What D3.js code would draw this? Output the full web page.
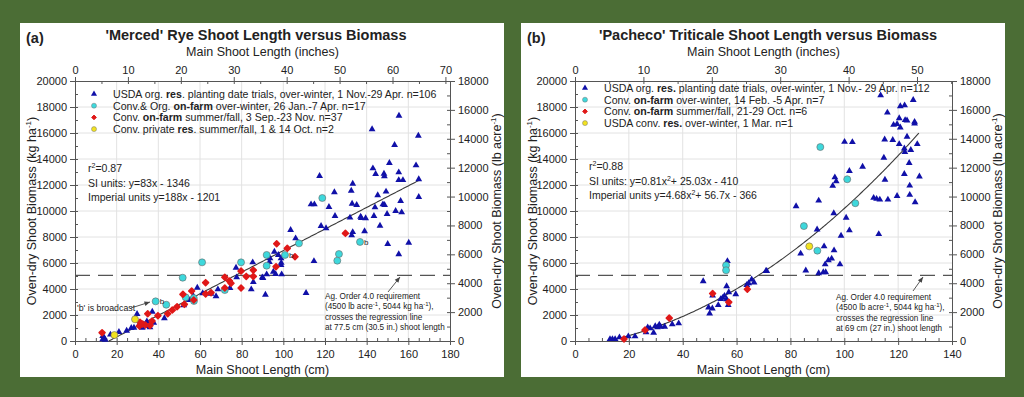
<!DOCTYPE html>
<html>
<head>
<meta charset="utf-8">
<script src="https://cdn.jsdelivr.net/npm/d3@7"></script>
<style>
  body { margin: 0; background: #4b6d35; }
  svg text { font-family: Arial, "Liberation Sans", sans-serif; fill: #222; }
</style>
</head>
<body>
<div id="chart"></div>
<script>
// ---- data ----
// panel (a) 'Merced' rye, [shoot length cm, biomass kg/ha]
const A_USDA = [[13.3,380],[13.3,130],[14,250],[14.5,100],[17,490],[21.1,690],[24.8,790],[27,1000],[28.3,1020],
  [29.8,2080],[30.9,1310],[31.5,1150],[32.3,1020],[33.8,1310],[34.5,1500],[35.2,1150],[36,1050],[37.1,2250],
  [37.8,1410],[42.9,1750],[52.2,2750],[54.9,3150],[56.8,3460],[58.7,4100],[61.3,3670],[65.3,3640],[67.7,3440],
  [68.6,3970],[74.4,4080],[77.6,4900],[77.3,5640],[84.6,3970],[85.6,4540],[85.3,6050],[89.9,4900],[91.4,3560],
  [92,5130],[93.3,6080],[93.6,6360],[95.2,5330],[95.7,6870],[97.6,6620],[98.9,6360],[99,6020],[99.2,5130],
  [103.5,8540],[105.9,7900],[110.9,3690],[114.7,6150],[117.4,12690],[124.5,11440],[132.6,11560],[113.3,10510],
  [114.9,10510],[121.9,10310],[133,10560],[135.2,10460],[145.3,11210],[149.3,11490],[147.8,10510],[148.6,10460],
  [144,10280],[156.3,10770],[165,11080],[153.9,10000],[156.8,9900],[149.8,9770],[143.5,9620],[132,9490],
  [137.1,9560],[137.4,9460],[139.5,9440],[124.8,9620],[146.4,8870],[139,8440],[133.3,8380],[132.8,8130],
  [118.1,8850],[120.5,8670],[150.1,7460],[160.2,7560],[155.4,6670],[142.6,16285],[155.5,17330],[164.8,15790],
  [153.4,15080],[143,13280],[144.3,12850],[148.3,12870],[148.5,12670],[150.9,13690],[155.4,12970],[155.4,12380],
  [157.4,12380],[163.7,13510],[165,12440],[133.3,12100],[90.2,4850],[96.3,5150],[98.9,5850]];
const A_FARM_WINTER = [[38.7,3050],[43.8,2790],[51.7,4870],[53.1,3360],[57.1,3080],[61,6050],[71.9,3920],
  [79.7,6050],[92,6620],[92,5790],[100.8,6620],[107.5,7510],[118.7,11000],[125.9,6180],[126.7,6690],[136.8,7620],[57,3300]];
const A_FARM_SUMMER = [[13,640],[30.9,1150],[31.2,1440],[32.5,1300],[33.8,1230],[34.9,2100],[36,1200],[37,1540],
  [39.8,1950],[44.5,2100],[46.7,2380],[49,2640],[51.8,3590],[52.5,2820],[56,3850],[57,3150],[62.7,4490],
  [62.7,3620],[65.3,3720],[71.9,4900],[71.9,4080],[74.1,4620],[74.9,4440],[79.7,4080],[79.7,5380],[82.2,4970],
  [85.6,5450],[85.6,4970],[96.8,7480],[101.9,7130],[105.6,6480],[96.5,5720],[129.8,8280]];
const A_PRIVATE = [[28.8,1670],[18.9,460]];
const A_BROADCAST = [[38.7,3050],[100.8,6620],[136.8,7620]];
const A_FIT = [0, 83, -1346];
const A_FIT_RANGE = [16.2, 165];

// panel (b) 'Pacheco' triticale
const B_USDA = [[13,150],[13.9,150],[14.9,150],[16.5,280],[19.8,360],[22.3,360],[26.4,670],[27,1050],[27.9,970],
  [29.2,640],[29.8,1150],[30.6,1050],[31.3,1250],[31.8,1100],[33.3,1100],[36.1,1280],[38.5,1360],[47.6,4600],
  [49.6,2580],[50,2120],[51,2500],[51.1,3500],[53.2,2760],[54.1,3220],[54.8,3320],[55.5,3470],[56.3,4210],
  [56.6,6150],[56.9,2760],[57.1,3750],[56.3,3200],[59.7,3600],[63.8,4310],[64.5,4440],[65.6,4730],[66.5,4500],
  [70.9,5390],[71.2,5390],[113.5,18900],[125.6,18540],[120.8,18060],[122.4,18130],[116,17570],[120.4,17140],
  [122.6,16990],[123.3,16960],[126.1,16860],[126.1,16730],[118.3,16630],[119.6,16680],[120.8,16420],[123.3,15710],
  [115,15500],[118,15460],[120.4,15150],[122.3,14810],[124.7,14690],[127.1,15150],[122.5,14530],[124.1,13690],
  [114.7,14100],[122.3,12850],[127.9,12660],[115.1,12410],[124.3,11950],[119.6,11160],[124.3,11240],[126.3,10670],
  [116.2,10880],[110.9,11010],[112,10930],[113.2,10880],[100.1,15320],[103,15300],[106.8,13410],[101.9,13080],
  [96.5,12590],[97,12280],[95.7,11930],[90.5,10800],[82.1,10370],[96.1,9830],[100.7,9480],[101.9,8510],
  [89.9,8580],[98.8,8100],[112.8,8220],[92.5,7280],[83.8,6720],[96.2,6970],[94.1,6210],[95.3,6340],[92.9,5900],
  [98.4,5900],[85.7,5420],[90.5,5210],[92.2,5290],[93.1,5290]];
const B_FARM_WINTER = [[91.1,14920],[101.1,12440],[104.1,10600],[85,8840],[90,6950],[56.1,5820],[56.1,5440]];
const B_FARM_SUMMER = [[18.2,150],[26,840],[35,1760],[51.1,3650],[57.1,2990],[64,3980]];
const B_CONV = [[87,7280]];
const B_FIT = [0.81, 25.03, -410];
const B_FIT_RANGE = [13, 127.7];

const AG_ORDER_KG = 5044;
const KG_TICKS = d3.range(0, 20001, 2000);
const LB_TICKS = d3.range(0, 18001, 2000);

// ---- layout ----
const svg = d3.select("#chart").append("svg").attr("width", 1024).attr("height", 397);

const COL_BLUE = "#1010a8", COL_CYAN = "#3ed8dc", COL_RED = "#e01818", COL_YEL = "#f2e21e";
const AX = "#555";
const fmt = d3.format("d");

function drawPanel(P) {
  const g = svg.append("g");
  g.append("rect").attr("x", P.box[0]).attr("y", P.box[1]).attr("width", P.box[2]).attr("height", P.box[3]).attr("fill", "#fff");

  const x = d3.scaleLinear().domain([0, P.xmax]).range([P.x0, P.x1]);
  const xin = d3.scaleLinear().domain([0, P.xmax / 2.54]).range([P.x0, P.x1]);
  const y = d3.scaleLinear().domain([0, 20000]).range([P.y0, P.y1]);
  const ylb = d3.scaleLinear().domain([0, 18000]).range([P.y0, P.y1]);

  // grid
  g.append("g").selectAll("line").data(P.xticks.slice(1, -1)).join("line")
    .attr("x1", d => x(d)).attr("x2", d => x(d)).attr("y1", P.y0).attr("y2", P.y1)
    .attr("stroke", "#e2e2e2");
  g.append("g").selectAll("line").data(KG_TICKS.slice(1, -1)).join("line")
    .attr("x1", P.x0).attr("x2", P.x1).attr("y1", d => y(d)).attr("y2", d => y(d))
    .attr("stroke", "#e2e2e2");

  // axes
  function styleAxis(sel) {
    sel.select(".domain").attr("stroke", AX);
    sel.selectAll(".tick line").attr("stroke", AX);
    sel.selectAll(".tick text").style("font-size", "11px").attr("fill", "#222");
  }
  const minor = d => d.tickFormat("").tickSizeOuter(0);
  g.append("g").attr("transform", `translate(0,${P.y0})`)
    .call(minor(d3.axisBottom(x).tickValues(d3.range(0, P.xmax + 1, 5)).tickSize(-3))).call(styleAxis);
  g.append("g").attr("transform", `translate(0,${P.y0})`)
    .call(d3.axisBottom(x).tickValues(P.xticks).tickFormat(fmt).tickSize(4).tickSizeOuter(0).tickPadding(5)).call(styleAxis);
  g.append("g").attr("transform", `translate(0,${P.y1})`)
    .call(minor(d3.axisTop(xin).tickValues(d3.range(0, P.xmax / 2.54, 5)).tickSize(-3))).call(styleAxis);
  g.append("g").attr("transform", `translate(0,${P.y1})`)
    .call(d3.axisTop(xin).tickValues(P.inticks).tickFormat(fmt).tickSize(4).tickSizeOuter(0).tickPadding(3)).call(styleAxis);
  g.append("g").attr("transform", `translate(${P.x0},0)`)
    .call(minor(d3.axisLeft(y).tickValues(d3.range(0, 20001, 1000)).tickSize(-3))).call(styleAxis);
  g.append("g").attr("transform", `translate(${P.x0},0)`)
    .call(d3.axisLeft(y).tickValues(KG_TICKS).tickFormat(fmt).tickSize(5).tickSizeOuter(0).tickPadding(3)).call(styleAxis);
  g.append("g").attr("transform", `translate(${P.x1},0)`)
    .call(minor(d3.axisRight(ylb).tickValues(d3.range(0, 18001, 1000)).tickSize(-3))).call(styleAxis);
  g.append("g").attr("transform", `translate(${P.x1},0)`)
    .call(d3.axisRight(ylb).tickValues(LB_TICKS).tickFormat(fmt).tickSize(5).tickSizeOuter(0).tickPadding(3)).call(styleAxis);

  // Ag order line
  g.append("line").attr("x1", P.x0).attr("x2", P.x1).attr("y1", y(AG_ORDER_KG)).attr("y2", y(AG_ORDER_KG))
    .attr("stroke", "#555").attr("stroke-width", 1.2).attr("stroke-dasharray", "15,8");

  // regression
  const f = t => P.fit[0] * t * t + P.fit[1] * t + P.fit[2];
  const xs = d3.range(P.fitRange[0], P.fitRange[1], 0.5).concat([P.fitRange[1]]);
  g.append("path").datum(xs).attr("fill", "none").attr("stroke", "#3a3a3a").attr("stroke-width", 1.1)
    .attr("d", d3.line().x(d => x(d)).y(d => y(f(d))));

  // markers
  const tri = d3.symbol(d3.symbolTriangle, 20)();
  const dia = d3.symbol(d3.symbolDiamond2, 22)();
  function drawSeries(data, kind) {
    const s = g.append("g");
    if (kind === "tri") {
      s.selectAll("path").data(data).join("path").attr("d", tri)
        .attr("transform", d => `translate(${x(d[0])},${y(d[1])})`).attr("fill", COL_BLUE);
    } else if (kind === "dia") {
      s.selectAll("path").data(data).join("path").attr("d", dia)
        .attr("transform", d => `translate(${x(d[0])},${y(d[1])})`).attr("fill", COL_RED)
        .attr("stroke", COL_RED).attr("stroke-width", 1.6).attr("stroke-linejoin", "round");
    } else {
      s.selectAll("circle").data(data).join("circle").attr("cx", d => x(d[0])).attr("cy", d => y(d[1]))
        .attr("r", 3.5).attr("fill", kind).attr("stroke", "#666").attr("stroke-width", 0.6);
    }
  }
  P.series.forEach(sr => drawSeries(sr.data, sr.kind));

  g.selectAll("text.b").data(P.broadcast).join("text").attr("class", "b")
    .attr("x", d => x(d[0]) + 4).attr("y", d => y(d[1]) + 3).style("font-size", "8px").attr("fill", "#555").text("b");

  // legend
  const lg = g.append("g");
  P.series.forEach((sr, i) => {
    const ly = P.legendY + i * 11.7;
    if (sr.kind === "tri") lg.append("path").attr("d", d3.symbol(d3.symbolTriangle, 16)()).attr("transform", `translate(${P.legendX},${ly})`).attr("fill", COL_BLUE);
    else if (sr.kind === "dia") lg.append("path").attr("d", d3.symbol(d3.symbolDiamond2, 14)()).attr("transform", `translate(${P.legendX},${ly})`).attr("fill", COL_RED).attr("stroke", COL_RED).attr("stroke-linejoin", "round");
    else lg.append("circle").attr("cx", P.legendX).attr("cy", ly).attr("r", 2.5).attr("fill", sr.kind).attr("stroke", "#777").attr("stroke-width", 0.5);
    const t = lg.append("text").attr("x", P.legendX + 19).attr("y", ly + 4).style("font-size", "10.6px");
    sr.label.forEach((part, j) => t.append("tspan").attr("font-weight", j % 2 ? "bold" : "normal").text(part));
  });

  // stats
  P.stats.forEach((s, i) => {
    const t = g.append("text").attr("x", P.statsX).attr("y", P.statsY + i * 14.5).style("font-size", "10.5px");
    s.forEach((part, j) => {
      if (j % 2) t.append("tspan").attr("dy", -4).style("font-size", "7px").text(part);
      else t.append("tspan").attr("dy", j ? 4 : 0).text(part);
    });
  });

  // annotation
  const ag = g.append("g").style("font-size", "8.2px");
  P.agLines.forEach((ln, i) => {
    const t = ag.append("text").attr("x", P.agX).attr("y", P.agY + i * 10.4).attr("fill", "#333");
    ln.forEach((part, j) => {
      if (j % 2) t.append("tspan").attr("dy", -3).style("font-size", "6px").text(part);
      else t.append("tspan").attr("dy", j ? 3 : 0).text(part);
    });
  });
  const arrow = (x1, y1, x2, y2) => {
    g.append("line").attr("x1", x1).attr("y1", y1).attr("x2", x2).attr("y2", y2).attr("stroke", "#444").attr("stroke-width", 0.9);
    const a = Math.atan2(y2 - y1, x2 - x1);
    const p = [[x2, y2], [x2 - 6 * Math.cos(a - 0.4), y2 - 6 * Math.sin(a - 0.4)], [x2 - 6 * Math.cos(a + 0.4), y2 - 6 * Math.sin(a + 0.4)]];
    g.append("path").attr("d", d3.line()(p) + "Z").attr("fill", "#444");
  };
  arrow(...P.agArrow);
  if (P.bNote) {
    g.append("text").attr("x", P.bNote[0]).attr("y", P.bNote[1]).style("font-size", "8.8px").attr("fill", "#333").text("'b' is broadcast");
    arrow(...P.bArrow);
  }

  // titles
  g.append("text").attr("x", P.box[0] + 6).attr("y", 43).style("font-size", "14.5px").attr("font-weight", "bold").text(P.tag);
  g.append("text").attr("x", P.titleX).attr("y", 40).attr("text-anchor", "middle").style("font-size", "14.5px").attr("font-weight", "bold").text(P.title);
  g.append("text").attr("x", (P.x0 + P.x1) / 2).attr("y", 56).attr("text-anchor", "middle").style("font-size", "12.5px").text("Main Shoot Length (inches)");
  g.append("text").attr("x", (P.x0 + P.x1) / 2).attr("y", 374).attr("text-anchor", "middle").style("font-size", "12.5px").text("Main Shoot Length (cm)");
  const yl = g.append("text").attr("transform", `translate(${P.box[0] + 16},${(P.y0 + P.y1) / 2}) rotate(-90)`).attr("text-anchor", "middle").style("font-size", "12.5px");
  yl.append("tspan").text("Oven-dry Shoot Biomass (kg ha");
  yl.append("tspan").attr("dy", -5).style("font-size", "8px").text("-1");
  yl.append("tspan").attr("dy", 5).text(")");
  const yr = g.append("text").attr("transform", `translate(${P.box[0] + P.box[2] - 3},${(P.y0 + P.y1) / 2}) rotate(-90)`).attr("text-anchor", "middle").style("font-size", "12.5px");
  yr.append("tspan").text("Oven-dry Shoot Biomass (lb acre");
  yr.append("tspan").attr("dy", -5).style("font-size", "8px").text("-1");
  yr.append("tspan").attr("dy", 5).text(")");
}

drawPanel({
  box: [20, 23, 484, 354], x0: 75, x1: 450, y0: 341, y1: 81, xmax: 180,
  xticks: d3.range(0, 181, 20), inticks: d3.range(0, 71, 10),
  tag: "(a)", title: "'Merced' Rye Shoot Length versus Biomass", titleX: 256,
  fit: A_FIT, fitRange: A_FIT_RANGE,
  series: [
    { data: A_USDA, kind: "tri", label: ["USDA org. ", "res", ". planting date trials, over-winter, 1 Nov.-29 Apr. n=106"] },
    { data: A_FARM_WINTER, kind: COL_CYAN, label: ["Conv.& Org. ", "on-farm", " over-winter, 26 Jan.-7 Apr. n=17"] },
    { data: A_FARM_SUMMER, kind: "dia", label: ["Conv. ", "on-farm", " summer/fall, 3 Sep.-23 Nov. n=37"] },
    { data: A_PRIVATE, kind: COL_YEL, label: ["Conv. private ", "res", ". summer/fall, 1 & 14 Oct. n=2"] }
  ],
  broadcast: A_BROADCAST,
  legendX: 94, legendY: 94,
  statsX: 88, statsY: 172,
  stats: [["r", "2", "=0.87"], ["SI units: y=83x - 1346"], ["Imperial units y=188x - 1201"]],
  agX: 325, agY: 299,
  agLines: [["Ag. Order 4.0 requirement"], ["(4500 lb acre", "-1", ", 5044 kg ha", "-1", "),"], ["crosses the regression line"], ["at 77.5 cm (30.5 in.) shoot length"]],
  agArrow: [388, 292, 400, 277],
  bNote: [77, 311], bArrow: [131, 308, 150, 302]
});

drawPanel({
  box: [521, 23, 484, 354], x0: 575, x1: 952, y0: 341, y1: 81, xmax: 140,
  xticks: d3.range(0, 141, 20), inticks: d3.range(0, 51, 10),
  tag: "(b)", title: "'Pacheco' Triticale Shoot Length versus Biomass", titleX: 768,
  fit: B_FIT, fitRange: B_FIT_RANGE,
  series: [
    { data: B_USDA, kind: "tri", label: ["USDA org. ", "res.", " planting date trials, over-winter, 1 Nov.- 29 Apr. n=112"] },
    { data: B_FARM_WINTER, kind: COL_CYAN, label: ["Conv. ", "on-farm", " over-winter, 14 Feb. -5 Apr. n=7"] },
    { data: B_FARM_SUMMER, kind: "dia", label: ["Conv. ", "on-farm", " summer/fall, 21-29 Oct. n=6"] },
    { data: B_CONV, kind: COL_YEL, label: ["USDA conv. ", "res.", " over-winter, 1 Mar. n=1"] }
  ],
  broadcast: [],
  legendX: 585, legendY: 88,
  statsX: 589, statsY: 170,
  stats: [["r", "2", "=0.88"], ["SI units: y=0.81x", "2", "+ 25.03x - 410"], ["Imperial units y=4.68x", "2", "+ 56.7x - 366"]],
  agX: 836, agY: 300,
  agLines: [["Ag. Order 4.0 requirement"], ["(4500 lb acre", "-1", ", 5044 kg ha", "-1", "),"], ["crosses the regression line"], ["at 69 cm (27 in.) shoot length"]],
  agArrow: [913, 291, 923, 277]
});
</script>
</body>
</html>
